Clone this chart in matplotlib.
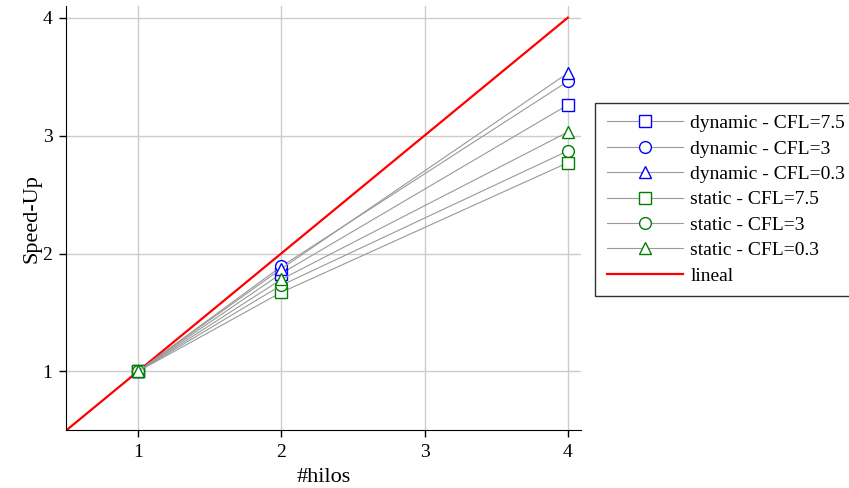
import matplotlib

matplotlib.use("Agg")
import matplotlib.pyplot as plt

plt.rcParams["font.family"] = ["Liberation Serif", "DejaVu Serif"]

threads = [1, 2, 4]
dynamic_75 = [1.0, 1.83, 3.26]
dynamic_3 = [1.0, 1.89, 3.46]
dynamic_03 = [1.0, 1.87, 3.53]
static_75 = [1.0, 1.67, 2.77]
static_3 = [1.0, 1.73, 2.87]
static_03 = [1.0, 1.78, 3.03]
linear_x = [0.5, 4.0]

series = [
    ("dynamic - CFL=7.5", dynamic_75, "s", "blue"),
    ("dynamic - CFL=3", dynamic_3, "o", "blue"),
    ("dynamic - CFL=0.3", dynamic_03, "^", "blue"),
    ("static - CFL=7.5", static_75, "s", "green"),
    ("static - CFL=3", static_3, "o", "green"),
    ("static - CFL=0.3", static_03, "^", "green"),
]

fig = plt.figure(figsize=(8.49, 4.88), dpi=100)
ax = fig.add_axes([0.078, 0.118, 0.606, 0.870])

for label, values, marker, color in series:
    ax.plot(threads, values, color="#999999", linewidth=0.8, marker=marker,
            markersize=8.5, markerfacecolor="white", markeredgecolor=color,
            markeredgewidth=1.0, label=label, zorder=3)
ax.plot(linear_x, linear_x, color="red", linewidth=1.6, label="lineal", zorder=2)

ax.set_xlim(0.5, 4.09)
ax.set_ylim(0.5, 4.1)
ax.set_xticks([1, 2, 3, 4])
ax.set_yticks([1, 2, 3, 4])
ax.tick_params(direction="out", length=5, width=1, labelsize=14, pad=5, color="black")
ax.grid(True, color="#cccccc", linewidth=1.0)
ax.set_axisbelow(True)
ax.spines["top"].set_visible(False)
ax.spines["right"].set_visible(False)
ax.set_xlabel("#hilos", fontsize=16, labelpad=5)
ax.set_ylabel("Speed-Up", fontsize=16, labelpad=1)

leg = fig.legend(loc="upper left", bbox_to_anchor=(0.701, 0.789), fontsize=14,
                 frameon=True, fancybox=False, edgecolor="black", handlelength=3.9,
                 labelspacing=0.4, borderpad=0.6, handletextpad=0.4,
                 borderaxespad=0)
leg.get_frame().set_linewidth(1.0)

fig.savefig("out.png", dpi=100)
